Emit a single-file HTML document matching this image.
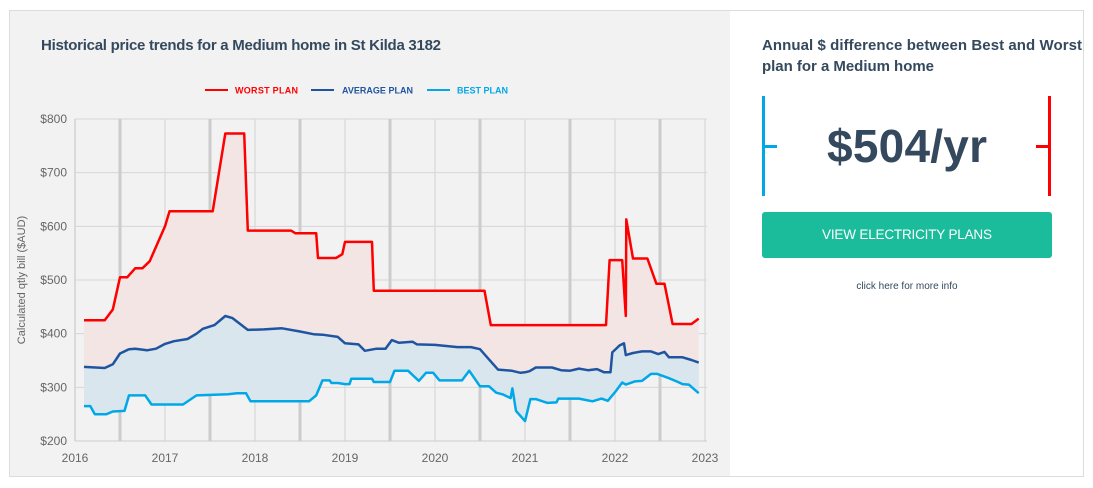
<!DOCTYPE html>
<html><head><meta charset="utf-8"><style>
html,body{margin:0;padding:0;background:#fff;}
body{width:1093px;height:488px;position:relative;overflow:hidden;font-family:"Liberation Sans",sans-serif;}
#frame{position:absolute;left:9px;top:10px;width:1075px;height:467px;border:1px solid #dcdcdc;box-sizing:border-box;}
#left{position:absolute;left:10px;top:11px;width:720px;height:465px;background:#f2f2f2;}
svg{position:absolute;left:0;top:0;}
</style></head><body>
<div id="frame"></div>
<div id="left"></div>
<svg id="chart" width="1093" height="488">
<text x="41" y="50" font-size="15" font-weight="bold" fill="#34495e" textLength="400">Historical price trends for a Medium home in St Kilda 3182</text>
<g font-size="9" font-weight="bold">
<g><line x1="205" y1="90" x2="228" y2="90" stroke="#ff0000" stroke-width="2"/><text x="235" y="93.5" fill="#ff0000" textLength="63">WORST PLAN</text></g>
<g><line x1="311" y1="90" x2="334" y2="90" stroke="#1f55a0" stroke-width="2"/><text x="342" y="93.5" fill="#1f55a0" textLength="71">AVERAGE PLAN</text></g>
<g><line x1="427" y1="90" x2="450" y2="90" stroke="#00a8e8" stroke-width="2"/><text x="457" y="93.5" fill="#00a8e8" textLength="51">BEST PLAN</text></g>
</g>
<g id="grid"></g><g id="fills"></g><g id="lines"></g><g id="axes"></g>
<text transform="translate(25,280) rotate(-90)" text-anchor="middle" font-size="11" fill="#666">Calculated qtly bill ($AUD)</text>

<text x="762" y="50" font-size="15" font-weight="bold" fill="#34495e" textLength="320">Annual $ difference between Best and Worst</text>
<text x="762" y="71" font-size="15" font-weight="bold" fill="#34495e" textLength="172">plan for a Medium home</text>
<g><rect x="762" y="96" width="3" height="100" fill="#00a8e8"/><rect x="764" y="145" width="13" height="3" fill="#00a8e8"/></g>
<g><rect x="1048" y="96" width="3" height="100" fill="#ff0000"/><rect x="1036" y="145" width="13" height="3" fill="#ff0000"/></g>
<text x="907" y="162" text-anchor="middle" font-size="46" font-weight="bold" fill="#34495e" textLength="160">$504/yr</text>
<g><rect x="762" y="212" width="290" height="46" rx="3" fill="#1abc9c"/><text x="907" y="239" text-anchor="middle" font-size="13.5" fill="#fff" textLength="170">VIEW ELECTRICITY PLANS</text></g>
<text x="907" y="289" text-anchor="middle" font-size="10" fill="#34495e">click here for more info</text>
</svg>
<script>
const yTicks=[200,300,400,500,600,700,800];
const xYears=[2016,2017,2018,2019,2020,2021,2022,2023];
const worstX=[2016.1,2016.33,2016.42,2016.5,2016.58,2016.67,2016.75,2016.83,2017.0,2017.05,2017.53,2017.67,2017.88,2017.92,2018.4,2018.45,2018.68,2018.7,2018.9,2018.97,2019.0,2019.3,2019.32,2020.55,2020.62,2021.9,2021.94,2022.08,2022.12,2022.125,2022.2,2022.36,2022.46,2022.55,2022.64,2022.85,2022.93];
const worstY=[425,425,445,505,505,522,522,535,600,628,628,773,773,592,592,587,587,541,541,548,571,571,480,480,416,416,537,537,433,613,540,540,493,493,418,418,428];
const avgX=[2016.1,2016.33,2016.42,2016.5,2016.6,2016.67,2016.8,2016.9,2017.0,2017.1,2017.25,2017.35,2017.42,2017.55,2017.67,2017.75,2017.92,2018.1,2018.3,2018.5,2018.65,2018.75,2018.92,2019.0,2019.15,2019.22,2019.35,2019.45,2019.52,2019.6,2019.75,2019.8,2020.0,2020.25,2020.4,2020.5,2020.6,2020.7,2020.85,2020.95,2021.0,2021.05,2021.12,2021.3,2021.4,2021.5,2021.6,2021.7,2021.8,2021.88,2021.95,2021.97,2022.05,2022.1,2022.12,2022.2,2022.3,2022.4,2022.48,2022.55,2022.6,2022.75,2022.85,2022.93];
const avgY=[338,336,343,363,371,372,369,372,381,386,390,400,409,416,433,429,407,408,410,404,399,398,394,382,380,368,372,372,388,383,385,380,379,375,375,371,352,333,331,327,328,330,337,337,332,331,335,332,334,328,328,365,378,382,360,364,367,367,362,366,356,356,351,346];
const bestX=[2016.1,2016.17,2016.22,2016.35,2016.42,2016.55,2016.6,2016.78,2016.85,2017.2,2017.35,2017.7,2017.8,2017.9,2017.95,2018.6,2018.68,2018.75,2018.83,2018.85,2018.92,2019.0,2019.05,2019.07,2019.3,2019.32,2019.5,2019.55,2019.7,2019.82,2019.9,2019.98,2020.05,2020.3,2020.38,2020.5,2020.6,2020.68,2020.75,2020.84,2020.86,2020.9,2021.0,2021.06,2021.12,2021.25,2021.35,2021.37,2021.5,2021.6,2021.75,2021.85,2021.92,2022.0,2022.08,2022.12,2022.22,2022.3,2022.4,2022.47,2022.6,2022.7,2022.75,2022.82,2022.93];
const bestY=[265,265,250,250,255,256,285,285,268,268,285,287,289,289,274,274,285,313,313,308,308,306,306,316,316,310,310,331,331,312,327,327,313,313,331,302,302,290,287,280,298,256,237,278,278,271,272,279,279,279,274,279,275,291,309,305,311,312,325,325,317,310,306,305,289];
const NS='http://www.w3.org/2000/svg';
const X0=75,PX=90,Y0=441,PY=322/600;
const sx=v=>X0+(v-2016)*PX, sy=v=>Y0-(v-200)*PY;
function mk(tag,attrs,parent){const e=document.createElementNS(NS,tag);for(const k in attrs)e.setAttribute(k,attrs[k]);parent.appendChild(e);return e;}
const grid=document.getElementById('grid'),fills=document.getElementById('fills'),lines=document.getElementById('lines'),axes=document.getElementById('axes');
mk('rect',{x:X0,y:sy(800),width:632,height:sy(200)-sy(800),fill:'#f2f2f2'},grid);
yTicks.forEach(t=>{const l=mk('line',{x1:X0,x2:707,y1:sy(t),y2:sy(t),stroke:'#d6d6d6','stroke-width':1},grid);


const tx=mk('text',{x:X0-8,y:sy(t)+4,'text-anchor':'end','font-size':12,fill:'#666'},axes);tx.textContent='$'+t;

});
xYears.forEach(t=>{const l=mk('line',{x1:sx(t),x2:sx(t),y1:sy(800),y2:sy(200),stroke:'#dcdcdc','stroke-width':1.5},grid);


if(t<2023){const m=mk('line',{x1:sx(t+0.5),x2:sx(t+0.5),y1:sy(800),y2:sy(200),stroke:'#cccccc','stroke-width':3},grid);

}
const tx=mk('text',{x:sx(t),y:Y0+21,'text-anchor':'middle','font-size':12,fill:'#666'},axes);tx.textContent=t;

});
mk('line',{x1:X0,x2:707,y1:Y0,y2:Y0,stroke:'#ccc'},axes);
mk('line',{x1:X0,x2:X0,y1:sy(800),y2:Y0,stroke:'#ccc'},axes);
const pts=(xs,ys)=>xs.map((x,i)=>sx(x).toFixed(1)+','+sy(ys[i]).toFixed(1));
function band(topX,topY,botX,botY,color,name){const p=pts(topX,topY).concat(pts(botX,botY).reverse());
const e=mk('polygon',{points:p.join(' '),fill:color},fills);

}
band(worstX,worstY,bestX,bestY,'#f2e5e4','worst-band-fill');
band(avgX,avgY,bestX,bestY,'#dae6ee','best-band-fill');
function line(xs,ys,color,name){const e=mk('polyline',{points:pts(xs,ys).join(' '),fill:'none',stroke:color,'stroke-width':2.5,'stroke-linejoin':'round'},lines);

}
line(bestX,bestY,'#00a8e8','best-plan-line');
line(avgX,avgY,'#1f55a0','average-plan-line');
line(worstX,worstY,'#ff0000','worst-plan-line');
</script>
</body></html>
